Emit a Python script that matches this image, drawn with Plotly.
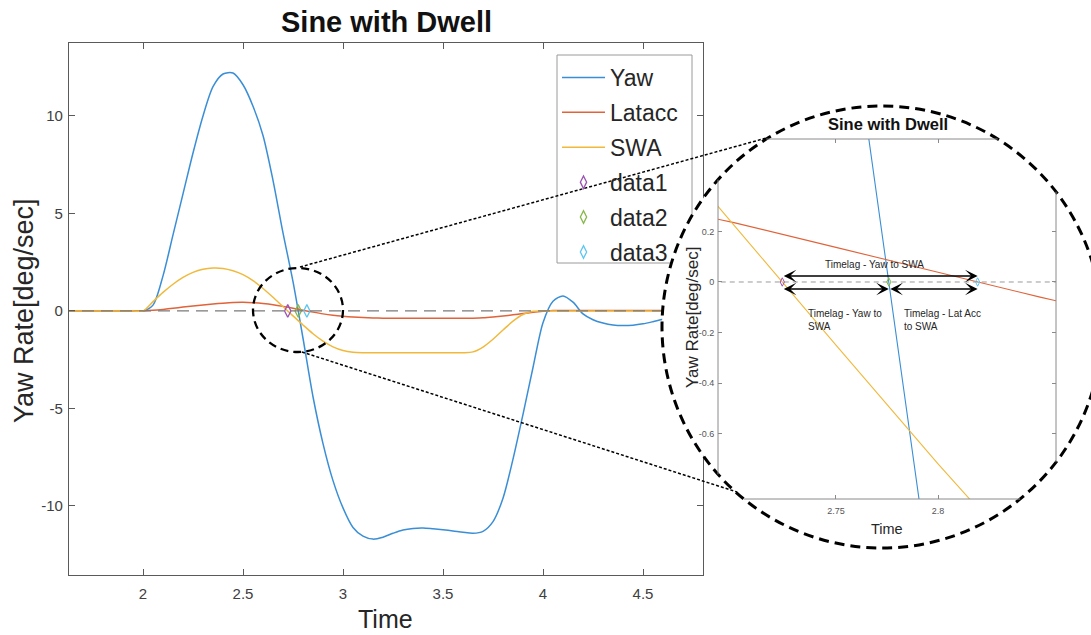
import math
import plotly.graph_objects as go

# ---------------- data ----------------
time = [1.60, 1.80, 1.95, 2.00, 2.05, 2.10, 2.15, 2.20, 2.25, 2.30, 2.35, 2.40, 2.45,
        2.50, 2.55, 2.60, 2.65, 2.70, 2.75, 2.80, 2.85, 2.90, 2.95,
        3.00, 3.05, 3.10, 3.15, 3.20, 3.25, 3.30, 3.35, 3.40, 3.45,
        3.50, 3.55, 3.60, 3.65, 3.70, 3.75, 3.80, 3.85, 3.90, 3.95,
        4.00, 4.05, 4.10, 4.15, 4.20, 4.25, 4.30, 4.35, 4.40, 4.45,
        4.50, 4.55, 4.60]
yaw = [0, 0, 0, 0, 0.3, 1.8, 3.9, 6.0, 8.1, 10.0, 11.5, 12.15, 12.2,
       11.6, 10.5, 9.0, 6.7, 4.0, 1.5, -1.4, -4.4, -6.8, -8.7,
       -10.1, -11.1, -11.55, -11.7, -11.6, -11.4, -11.23, -11.15, -11.13, -11.17,
       -11.22, -11.28, -11.35, -11.4, -11.3, -10.8, -9.6, -7.6, -5.3, -2.9,
       -0.6, 0.5, 0.77, 0.45, -0.15, -0.45, -0.62, -0.72, -0.75, -0.73,
       -0.66, -0.55, -0.43]
latacc = [0, 0, 0, 0, 0.03, 0.08, 0.14, 0.20, 0.26, 0.31, 0.36, 0.40, 0.43,
          0.44, 0.42, 0.38, 0.32, 0.235, 0.137, 0.038, -0.06, -0.15, -0.22,
          -0.27, -0.31, -0.34, -0.36, -0.37, -0.38, -0.38, -0.38, -0.38, -0.38,
          -0.38, -0.38, -0.38, -0.37, -0.35, -0.31, -0.26, -0.20, -0.13, -0.07,
          -0.02, 0.02, 0.02, 0.02, 0.02, 0.02, 0.02, 0.02, 0.02, 0.02,
          0.02, 0.02, 0.02]
swa = [0, 0, 0, 0, 0.48, 0.95, 1.37, 1.72, 1.98, 2.14, 2.20, 2.18, 2.06,
       1.86, 1.55, 1.15, 0.70, 0.225, -0.25, -0.72, -1.17, -1.55, -1.84,
       -2.03, -2.12, -2.14, -2.14, -2.14, -2.14, -2.14, -2.14, -2.14, -2.14,
       -2.14, -2.14, -2.14, -2.10, -1.85, -1.45, -0.98, -0.52, -0.18, -0.02,
       0, 0, 0, 0, 0, 0, 0, 0, 0, 0,
       0, 0, 0]
data1_t, data1_v = [2.7237], [0.0]
data2_t, data2_v = [2.7759], [0.0]
data3_t, data3_v = [2.8194], [0.0]

x_ticks = [2, 2.5, 3, 3.5, 4, 4.5]
x_tick_text = ["2", "2.5", "3", "3.5", "4", "4.5"]
y_ticks = [-10, -5, 0, 5, 10]
y_tick_text = ["-10", "-5", "0", "5", "10"]
inset_x_ticks = [2.75, 2.8]
inset_x_tick_text = ["2.75", "2.8"]
inset_y_ticks = [-0.6, -0.4, -0.2, 0, 0.2]
inset_y_tick_text = ["-0.6", "-0.4", "-0.2", "0", "0.2"]

# ---------------- styling ----------------
W, H = 1091, 635
FONT = "Liberation Sans, Arial, sans-serif"
C_YAW, C_LAT, C_SWA = "#3A8ED6", "#E0633A", "#F0B93C"
C_D1, C_D2, C_D3 = "#9B52B3", "#86B84A", "#5CC6F0"


def fx(p):
    return p / W


def fy(p):
    return 1 - p / H


fig = go.Figure()

# main subplot
for name, vals, col in [("Yaw", yaw, C_YAW), ("Latacc", latacc, C_LAT), ("SWA", swa, C_SWA)]:
    fig.add_trace(go.Scatter(x=time, y=vals, mode="lines", name=name, legendgroup=name,
                             line=dict(color=col, width=1.5, shape="spline", smoothing=0.8),
                             xaxis="x", yaxis="y"))
for name, tt, vv, col in [("data1", data1_t, data1_v, C_D1), ("data2", data2_t, data2_v, C_D2),
                          ("data3", data3_t, data3_v, C_D3)]:
    fig.add_trace(go.Scatter(x=tt, y=vv, mode="markers", name=name, legendgroup=name,
                             marker=dict(symbol="diamond-tall-open", size=9, color=col,
                                         line=dict(width=1.3, color=col)),
                             xaxis="x", yaxis="y"))
fig.add_trace(go.Scatter(x=[time[0], time[-1]], y=[0, 0], mode="lines", showlegend=False,
                         line=dict(color="#7a7a7a", width=1.2, dash="12px,7px"),
                         xaxis="x", yaxis="y", hoverinfo="skip"))

# cover subplot (holds the white magnifier disc)
fig.add_trace(go.Scatter(x=[None], y=[None], mode="lines", showlegend=False,
                         xaxis="x2", yaxis="y2", hoverinfo="skip"))

# inset subplot
for vals, col in [(yaw, C_YAW), (latacc, C_LAT), (swa, C_SWA)]:
    fig.add_trace(go.Scatter(x=time, y=vals, mode="lines", showlegend=False,
                             line=dict(color=col, width=1.1),
                             xaxis="x3", yaxis="y3"))
fig.add_trace(go.Scatter(x=[time[0], time[-1]], y=[0, 0], mode="lines", showlegend=False,
                         line=dict(color="#9a9a9a", width=1, dash="5px,4px"),
                         xaxis="x3", yaxis="y3", hoverinfo="skip"))
for tt, vv, col in [(data1_t, data1_v, C_D1), (data2_t, data2_v, C_D2), (data3_t, data3_v, C_D3)]:
    fig.add_trace(go.Scatter(x=tt, y=vv, mode="markers", showlegend=False,
                             marker=dict(symbol="diamond-tall-open", size=6, color=col,
                                         line=dict(width=1, color=col)),
                             xaxis="x3", yaxis="y3"))

# ---------------- shapes ----------------
CX, CY, RX, RY = 882, 327, 220, 221
BX0, BY0, BX1, BY1 = 718, 139, 1056, 499


def hclip(yv):
    half = RX * math.sqrt(max(1 - ((yv - CY) / RY) ** 2, 0))
    return max(BX0, CX - half), min(BX1, CX + half)


def vclip(xv):
    half = RY * math.sqrt(max(1 - ((xv - CX) / RX) ** 2, 0))
    return max(BY0, CY - half), min(BY1, CY + half)


shapes = []
shapes.append(dict(type="rect", xref="paper", yref="paper", x0=fx(557), x1=fx(692),
                   y0=fy(263), y1=fy(55), fillcolor="white",
                   line=dict(color="#9a9a9a", width=1), layer="below"))
shapes.append(dict(type="circle", xref="x2", yref="y2", x0=CX - RX, x1=CX + RX,
                   y0=CY - RY, y1=CY + RY, fillcolor="white",
                   line=dict(color="black", width=3, dash="10px,6px"), layer="below"))
for yv in (BY0, BY1):
    a, b = hclip(yv)
    shapes.append(dict(type="line", xref="paper", yref="paper", x0=fx(a), x1=fx(b),
                       y0=fy(yv), y1=fy(yv), line=dict(color="#8a8a8a", width=1), layer="above"))
for xv in (BX0, BX1):
    a, b = vclip(xv)
    shapes.append(dict(type="line", xref="paper", yref="paper", x0=fx(xv), x1=fx(xv),
                       y0=fy(a), y1=fy(b), line=dict(color="#8a8a8a", width=1), layer="above"))
shapes.append(dict(type="circle", xref="paper", yref="paper", x0=fx(253), x1=fx(343),
                   y0=fy(352), y1=fy(268), line=dict(color="black", width=2.3, dash="8px,5px"),
                   layer="above"))
shapes.append(dict(type="line", xref="paper", yref="paper", x0=fx(300), y0=fy(267),
                   x1=fx(770), y1=fy(137), line=dict(color="black", width=1.5, dash="3px,2px"),
                   layer="above"))
shapes.append(dict(type="line", xref="paper", yref="paper", x0=fx(302), y0=fy(352),
                   x1=fx(737), y1=fy(492), line=dict(color="black", width=1.5, dash="3px,2px"),
                   layer="above"))

# ---------------- annotations ----------------
def label(text, x, y, size, angle=0, xanchor="center", align="center", color="#262626"):
    return dict(text=text, x=fx(x), y=fy(y), xref="paper", yref="paper", showarrow=False,
                xanchor=xanchor, yanchor="middle", align=align, textangle=angle,
                font=dict(family=FONT, size=size, color=color))


ann = [
    label("<b>Sine with Dwell</b>", 386, 22, 29, color="#111111"),
    label("Time", 385, 619, 25),
    label("Yaw Rate[deg/sec]", 24, 311, 27, angle=-90),
    label("<b>Sine with Dwell</b>", 888, 124, 16.5, color="#111111"),
    label("Time", 887, 529, 14.5),
    label("Yaw Rate[deg/sec]", 692, 318, 17, angle=-90),
    label("Timelag - Yaw to SWA", 874, 265, 10),
    label("Timelag - Yaw to<br>SWA", 806, 320, 10, xanchor="left", align="left"),
    label("Timelag - Lat Acc<br>to SWA", 902, 320, 10, xanchor="left", align="left"),
]
arrow_style = dict(showarrow=True, arrowside="end+start", arrowhead=3, startarrowhead=3,
                   arrowsize=1.5, startarrowsize=1.5, arrowwidth=1.4, arrowcolor="black",
                   standoff=0, startstandoff=0, text="", xref="x3", yref="y3",
                   axref="x3", ayref="y3")
ann.append(dict(x=data3_t[0], y=0.024, ax=data1_t[0], ay=0.024, **arrow_style))
ann.append(dict(x=data2_t[0], y=-0.028, ax=data1_t[0], ay=-0.028, **arrow_style))
ann.append(dict(x=data3_t[0], y=-0.028, ax=data2_t[0], ay=-0.028, **arrow_style))

axis_main = dict(showgrid=False, zeroline=False, showline=True, linecolor="#5a5a5a",
                 linewidth=1.2, mirror="ticks", ticks="inside", ticklen=6, tickcolor="#5a5a5a",
                 tickfont=dict(family=FONT, size=15, color="#404040"))
axis_inset = dict(showgrid=False, zeroline=False, showline=True, linecolor="rgba(0,0,0,0)",
                  mirror="ticks", ticks="inside", ticklen=4, tickcolor="#8a8a8a",
                  tickfont=dict(family=FONT, size=9, color="#555555"))

fig.update_layout(
    width=W, height=H, margin=dict(l=0, r=0, t=0, b=0),
    paper_bgcolor="white", plot_bgcolor="rgba(0,0,0,0)",
    xaxis=dict(domain=[fx(69), fx(703)], range=[1.63, 4.8], anchor="y",
               tickvals=x_ticks, ticktext=x_tick_text, ticklabelstandoff=5, **axis_main),
    yaxis=dict(domain=[fy(575), fy(43)], range=[-13.54, 13.74], anchor="x",
               tickvals=y_ticks, ticktext=y_tick_text, ticklabelstandoff=2, **axis_main),
    xaxis2=dict(domain=[fx(655), 1.0], range=[655, 1091], anchor="y2", visible=False),
    yaxis2=dict(domain=[fy(555), fy(100)], range=[555, 100], anchor="x2", visible=False),
    xaxis3=dict(domain=[fx(BX0), fx(BX1)], range=[2.6922, 2.8578], anchor="y3",
                tickvals=inset_x_ticks, ticktext=inset_x_tick_text, ticklabelstandoff=3,
                **axis_inset),
    yaxis3=dict(domain=[fy(BY1), fy(BY0)], range=[-0.859, 0.566], anchor="x3",
                tickvals=inset_y_ticks, ticktext=inset_y_tick_text, ticklabelstandoff=1,
                **axis_inset),
    legend=dict(x=fx(557), y=fy(56), xanchor="left", yanchor="top", bgcolor="rgba(0,0,0,0)",
                borderwidth=0, font=dict(family=FONT, size=23, color="#262626"),
                traceorder="grouped", tracegroupgap=2, itemwidth=43),
    shapes=shapes, annotations=ann, showlegend=True,
)

fig.write_html("out.html")
